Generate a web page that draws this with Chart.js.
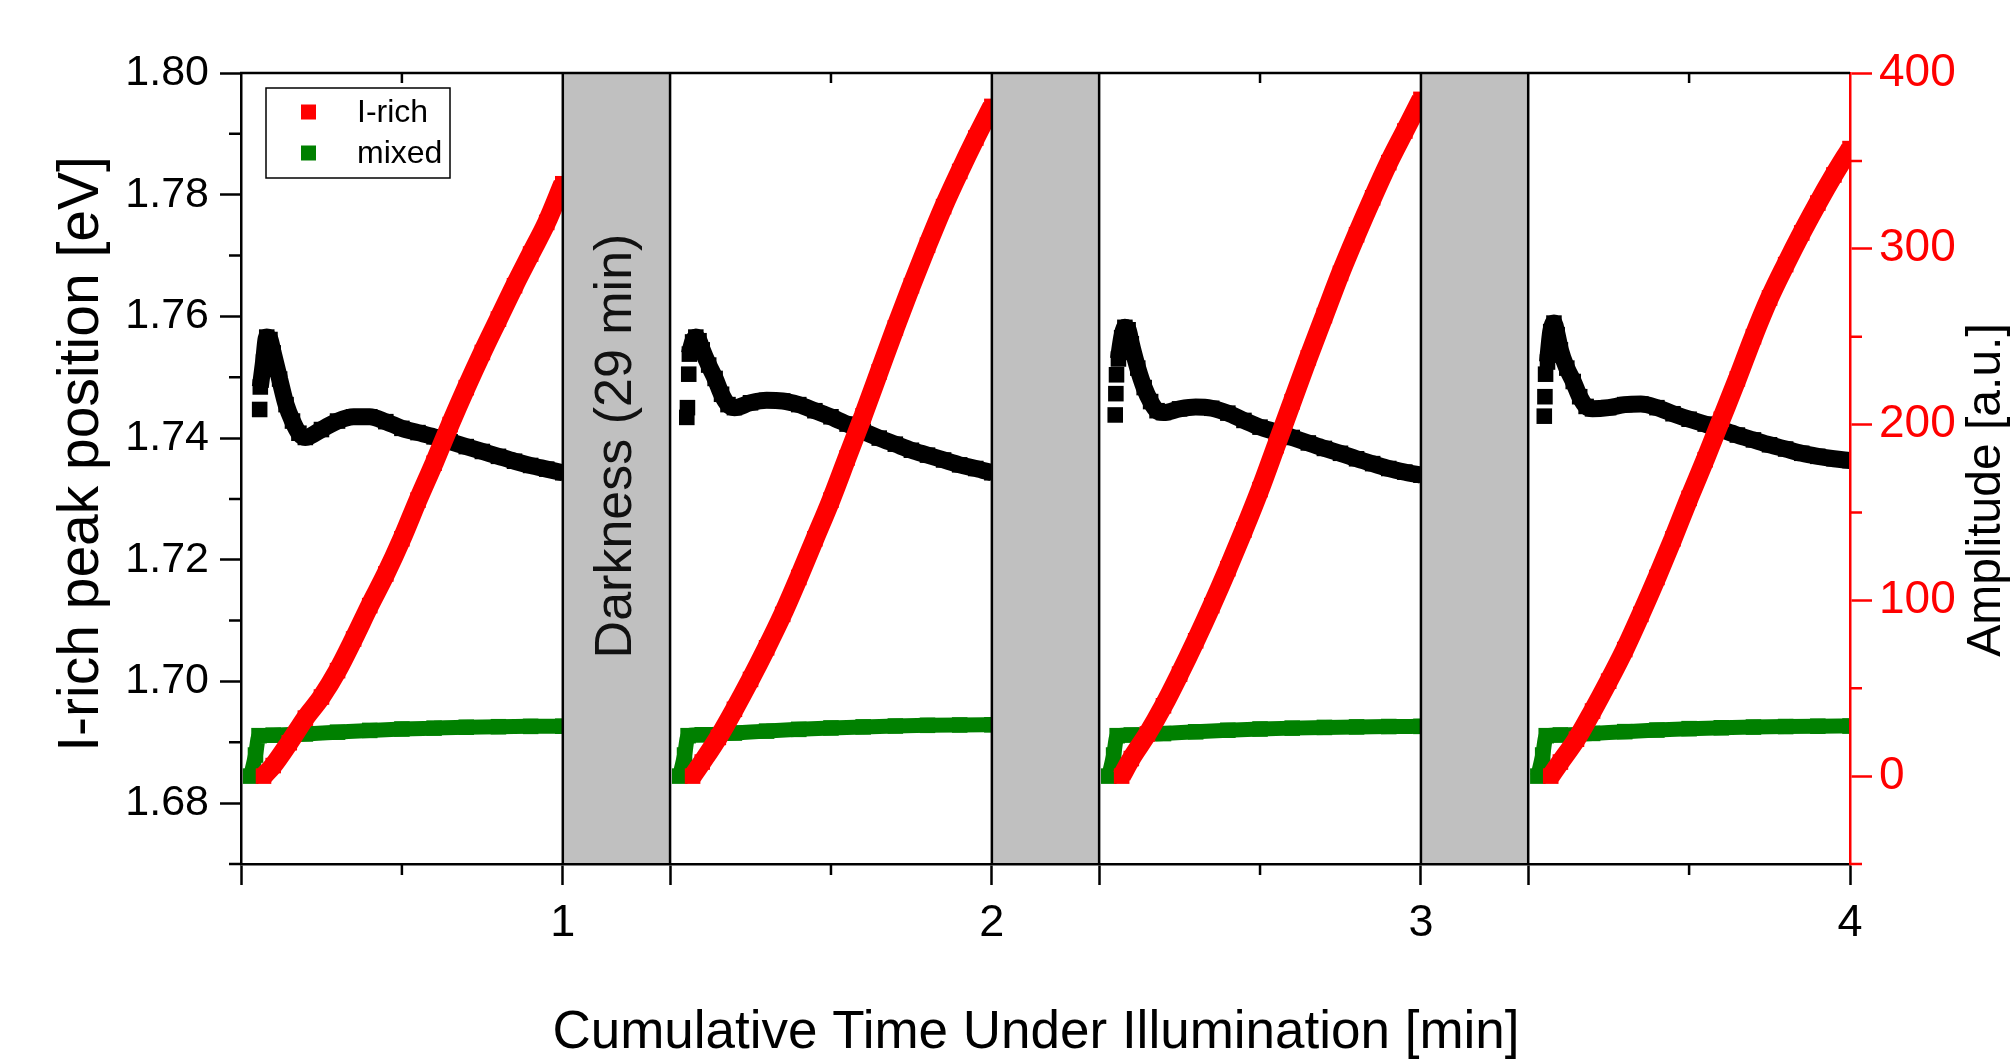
<!DOCTYPE html>
<html>
<head>
<meta charset="utf-8">
<script src="https://cdn.jsdelivr.net/npm/chart.js@4.4.0/dist/chart.umd.min.js"></script>
<style>
  html, body { margin: 0; padding: 0; background: #fff; }
  #wrap { width: 2014px; height: 1063px; }
</style>
</head>
<body>
<div id="wrap"><canvas id="chart" width="2014" height="1063"></canvas></div>
<script>
// Each cycle = 1 min of illumination, followed by a darkness break
const cycleLabels = ['1', '2', '3', '4'];
const darkGap = 1 / 3; // width of the darkness break, in axis units
const darkText = 'Darkness (29 min)';

const peakTicks = [1.68, 1.70, 1.72, 1.74, 1.76, 1.78, 1.80];
const peakMinor = [1.67, 1.69, 1.71, 1.73, 1.75, 1.77, 1.79];
const ampTicks = [0, 100, 200, 300, 400];
const ampMinor = [-50, 50, 150, 250, 350];

// I-rich peak position [eV] (black, left axis), time within cycle [min]
const peakT = [0.06, 0.07, 0.08, 0.09, 0.10, 0.12, 0.14, 0.16, 0.18, 0.20, 0.25, 0.30, 0.35,
  0.40, 0.45, 0.50, 0.55, 0.60, 0.65, 0.70, 0.75, 0.80, 0.85, 0.90, 0.95, 1.00];
const peak1 = [1.7484, 1.7525, 1.7566, 1.7562, 1.7540, 1.7497, 1.7455, 1.7428, 1.7408, 1.7401, 1.7414, 1.7428, 1.7435,
  1.7435, 1.7427, 1.7416, 1.7409, 1.7402, 1.7394, 1.7386, 1.7378, 1.7370, 1.7362, 1.7355, 1.7349, 1.7343];
const peak2 = [1.7538, 1.7558, 1.7566, 1.7560, 1.7545, 1.7520, 1.7498, 1.7472, 1.7455, 1.7450, 1.7458, 1.7462, 1.7461,
  1.7455, 1.7445, 1.7435, 1.7423, 1.7411, 1.7400, 1.7390, 1.7380, 1.7372, 1.7364, 1.7356, 1.7350, 1.7343];
const peak3 = [1.7530, 1.7565, 1.7582, 1.7578, 1.7555, 1.7515, 1.7483, 1.7460, 1.7445, 1.7442, 1.7448, 1.7451, 1.7449,
  1.7441, 1.7429, 1.7418, 1.7410, 1.7401, 1.7392, 1.7383, 1.7375, 1.7366, 1.7358, 1.7350, 1.7344, 1.7339];
const peak4 = [1.7525, 1.7575, 1.7589, 1.7570, 1.7545, 1.7515, 1.7493, 1.7468, 1.7452, 1.7448, 1.7450, 1.7455, 1.7456,
  1.7450, 1.7440, 1.7431, 1.7423, 1.7414, 1.7405, 1.7397, 1.7389, 1.7382, 1.7375, 1.7370, 1.7366, 1.7363];
// scattered first points at the start of each cycle
const onsetT = [[0.058], [0.052, 0.054, 0.058], [0.050, 0.052, 0.054], [0.050, 0.052, 0.054]];
const onsetV = [[1.7447], [1.7434, 1.7450, 1.7505], [1.7438, 1.7473, 1.7504], [1.7436, 1.7468, 1.7505]];

// Amplitude [a.u.] of the I-rich phase (red, right axis)
const ampT = [0.07, 0.10, 0.15, 0.20, 0.25, 0.30, 0.35, 0.40, 0.45, 0.50, 0.55, 0.60, 0.65, 0.70,
  0.75, 0.80, 0.85, 0.90, 0.95, 1.00];
const amp1 = [0, 6, 19, 33, 45, 60, 78, 97, 115, 135, 157, 178, 200, 221, 241, 260, 279, 297, 315, 337];
const amp2 = [0, 8, 22, 38, 55, 73, 92, 113, 135, 157, 181, 205, 230, 255, 279, 302, 324, 344, 363, 381];
const amp3 = [0, 10, 24, 40, 58, 77, 97, 118, 140, 163, 188, 213, 238, 262, 286, 308, 329, 349, 367, 385];
const amp4 = [0, 8, 21, 37, 54, 72, 92, 113, 135, 158, 180, 203, 226, 250, 272, 291, 309, 326, 342, 357];

// Amplitude [a.u.] of the mixed phase (green, right axis)
const mixT = [0.03, 0.045, 0.056, 0.10, 0.20, 0.30, 0.40, 0.50, 0.60, 0.70, 0.80, 0.90, 1.00];
const mix1 = [0, 12, 23, 23.3, 24.0, 25.0, 26.0, 26.8, 27.3, 27.8, 28.1, 28.3, 28.4];
const mix2 = [0, 12, 23, 23.5, 24.5, 25.6, 26.6, 27.4, 28.0, 28.5, 28.9, 29.1, 29.2];
const mix3 = [0, 12, 23, 23.4, 24.2, 25.2, 26.1, 26.8, 27.3, 27.7, 28.0, 28.2, 28.3];
const mix4 = [0, 12, 23, 23.4, 24.3, 25.3, 26.2, 27.0, 27.5, 27.9, 28.2, 28.4, 28.5];

const FONT = '"Liberation Sans", Arial, sans-serif';

// position of a time inside cycle i on the broken x axis
function cycleX(i, t) {
  return i * (1 + darkGap) + t;
}

// join the cycles into one series, with gaps between cycles (and after scattered onset points)
function buildSeries(times, cycles, oT, oV) {
  const pts = [];
  cycles.forEach((vals, i) => {
    if (oT) {
      oT[i].forEach((t, j) => {
        pts.push({ x: cycleX(i, t), y: oV[i][j] });
        pts.push({ x: cycleX(i, t), y: null });
      });
    }
    times.forEach((t, j) => pts.push({ x: cycleX(i, t), y: vals[j] }));
    pts.push({ x: cycleX(i, 1), y: null });
  });
  return pts;
}

const xMajor = [0];
const xMinor = [];
cycleLabels.forEach((lab, i) => {
  xMinor.push(cycleX(i, 0.5));
  xMajor.push(cycleX(i, 1));
  if (i < cycleLabels.length - 1) xMajor.push(cycleX(i + 1, 0));
});

function series(label, data, color, width, axis, inLegend) {
  return {
    label: label,
    data: data,
    yAxisID: axis,
    borderColor: color,
    backgroundColor: color,
    borderWidth: width,
    borderJoinStyle: 'bevel',
    cubicInterpolationMode: 'monotone',
    pointStyle: 'rect',
    pointRadius: 11,
    pointBorderWidth: 0,
    pointBackgroundColor: color,
    spanGaps: false,
    inLegend: inLegend
  };
}

// dark breaks drawn over the data, with the label in the first one
const darkBands = {
  id: 'darkBands',
  afterDatasetsDraw(chart) {
    const { ctx, chartArea: a, scales: { x } } = chart;
    ctx.save();
    for (let i = 0; i < cycleLabels.length - 1; i++) {
      const x0 = x.getPixelForValue(cycleX(i, 1));
      const x1 = x.getPixelForValue(cycleX(i + 1, 0));
      ctx.fillStyle = '#c0c0c0';
      ctx.fillRect(x0, a.top, x1 - x0, a.bottom - a.top);
      ctx.strokeStyle = '#000';
      ctx.lineWidth = 2.5;
      ctx.beginPath();
      ctx.moveTo(x0, a.top); ctx.lineTo(x0, a.bottom);
      ctx.moveTo(x1, a.top); ctx.lineTo(x1, a.bottom);
      ctx.stroke();
    }
    const bx = (x.getPixelForValue(cycleX(0, 1)) + x.getPixelForValue(cycleX(1, 0))) / 2;
    ctx.translate(bx, 446);
    ctx.rotate(-Math.PI / 2);
    ctx.font = '52px ' + FONT;
    ctx.fillStyle = '#111';
    ctx.textAlign = 'center';
    ctx.textBaseline = 'middle';
    ctx.fillText(darkText, 0, 0);
    ctx.restore();
  }
};

// top frame, minor ticks, axis titles and the legend box
const frame = {
  id: 'frame',
  afterDraw(chart) {
    const { ctx, chartArea: a, scales: { x, y, y1 } } = chart;
    ctx.save();
    ctx.lineWidth = 2.5;
    ctx.strokeStyle = '#000';
    ctx.beginPath();
    ctx.moveTo(a.left - 1, a.top);
    ctx.lineTo(a.right, a.top);
    ctx.stroke();

    ctx.beginPath();
    xMinor.forEach(v => {
      const px = x.getPixelForValue(v);
      ctx.moveTo(px, a.bottom); ctx.lineTo(px, a.bottom + 11);
      ctx.moveTo(px, a.top); ctx.lineTo(px, a.top + 10);
    });
    peakMinor.forEach(v => {
      const py = y.getPixelForValue(v);
      ctx.moveTo(a.left, py); ctx.lineTo(a.left - 12, py);
    });
    ctx.stroke();

    ctx.strokeStyle = '#ff0000';
    ctx.beginPath();
    ampMinor.forEach(v => {
      const py = y1.getPixelForValue(v);
      ctx.moveTo(a.right, py); ctx.lineTo(a.right + 12, py);
    });
    ctx.stroke();

    // axis titles
    ctx.fillStyle = '#000';
    ctx.textAlign = 'center';
    ctx.textBaseline = 'middle';
    ctx.font = '53px ' + FONT;
    ctx.fillText('Cumulative Time Under Illumination [min]', 1036, 1033);
    ctx.save();
    ctx.font = '57px ' + FONT;
    ctx.translate(82, 454);
    ctx.rotate(-Math.PI / 2);
    ctx.fillText('I-rich peak position [eV]', 0, 0);
    ctx.restore();
    ctx.save();
    ctx.font = '48px ' + FONT;
    ctx.translate(1987, 490);
    ctx.rotate(-Math.PI / 2);
    ctx.fillText('Amplitude [a.u.]', 0, 0);
    ctx.restore();

    // legend
    const items = chart.data.datasets.filter(d => d.inLegend);
    ctx.fillStyle = '#fff';
    ctx.fillRect(266, 88, 184, 90);
    ctx.lineWidth = 1.5;
    ctx.strokeStyle = '#000';
    ctx.strokeRect(266, 88, 184, 90);
    ctx.font = '32px ' + FONT;
    ctx.textAlign = 'left';
    items.forEach((d, i) => {
      const cy = 112 + i * 41;
      ctx.fillStyle = d.borderColor;
      ctx.fillRect(301, cy - 7.5, 15, 15);
      ctx.fillStyle = '#000';
      ctx.fillText(d.label, 357, cy + 1);
    });
    ctx.restore();
  }
};

new Chart(document.getElementById('chart'), {
  type: 'line',
  data: {
    datasets: [
      series('I-rich', buildSeries(ampT, [amp1, amp2, amp3, amp4]), '#ff0000', 19, 'y1', true),
      series('I-rich peak position', buildSeries(peakT, [peak1, peak2, peak3, peak4], onsetT, onsetV), '#000000', 17, 'y', false),
      series('mixed', buildSeries(mixT, [mix1, mix2, mix3, mix4]), '#008000', 15, 'y1', true)
    ]
  },
  options: {
    responsive: false,
    animation: false,
    devicePixelRatio: 1,
    layout: { padding: { top: 73, left: 0, right: 0, bottom: 0 } },
    plugins: {
      legend: { display: false },
      tooltip: { enabled: false }
    },
    scales: {
      x: {
        type: 'linear',
        position: 'bottom',
        min: 0,
        max: cycleX(cycleLabels.length - 1, 1),
        afterBuildTicks: scale => { scale.ticks = xMajor.map(v => ({ value: v })); },
        afterFit: scale => { scale.height = 199; },
        grid: { display: true, drawOnChartArea: false, drawTicks: true, tickLength: 21, tickWidth: 2.5, tickColor: '#000', z: 1 },
        border: { display: true, color: '#000', width: 2.5, z: 1 },
        ticks: {
          z: 1,
          autoSkip: false,
          maxRotation: 0,
          padding: 12,
          color: '#000',
          font: { family: FONT, size: 45 },
          callback: value => {
            const i = cycleLabels.findIndex((lab, k) => Math.abs(cycleX(k, 1) - value) < 1e-6);
            return i >= 0 ? cycleLabels[i] : '';
          }
        }
      },
      y: {
        type: 'linear',
        position: 'left',
        min: 1.67,
        max: 1.80,
        afterBuildTicks: scale => { scale.ticks = peakTicks.map(v => ({ value: v })); },
        afterFit: scale => { scale.width = 241; },
        grid: { display: true, drawOnChartArea: false, drawTicks: true, tickLength: 21, tickWidth: 2.5, tickColor: '#000', z: 1 },
        border: { display: true, color: '#000', width: 2.5, z: 1 },
        ticks: {
          z: 1,
          padding: 11,
          color: '#000',
          font: { family: FONT, size: 43 },
          callback: value => value.toFixed(2)
        }
      },
      y1: {
        type: 'linear',
        position: 'right',
        min: -50,
        max: 400,
        afterBuildTicks: scale => { scale.ticks = ampTicks.map(v => ({ value: v })); },
        afterFit: scale => { scale.width = 164; },
        grid: { display: true, drawOnChartArea: false, drawTicks: true, tickLength: 22, tickWidth: 2.5, tickColor: '#ff0000', z: 1 },
        border: { display: true, color: '#ff0000', width: 2.5, z: 1 },
        ticks: {
          z: 1,
          padding: 7,
          color: '#ff0000',
          font: { family: FONT, size: 46 },
          callback: value => String(value)
        }
      }
    }
  },
  plugins: [darkBands, frame]
});
</script>
</body>
</html>
